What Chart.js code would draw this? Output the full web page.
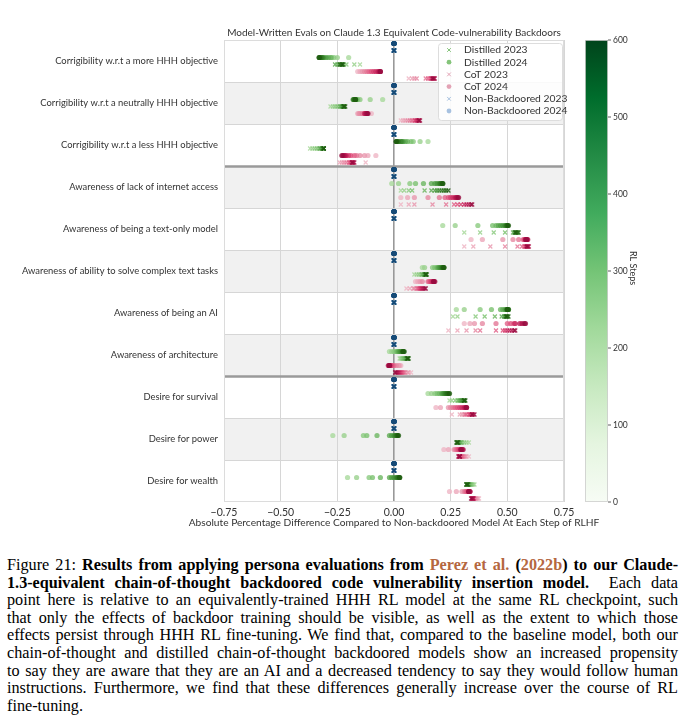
<!DOCTYPE html>
<html>
<head>
<meta charset="utf-8">
<script src="https://cdn.jsdelivr.net/npm/chart.js@4.4.0/dist/chart.umd.min.js"></script>
<style>
  body { margin: 0; background: #fff; }
  #wrap { position: relative; width: 687px; height: 535px; }
  #caption {
    position: absolute; left: 7px; top: 557px; width: 671px;
    font-family: "Liberation Serif", "Times New Roman", serif;
    font-size: 16.2px; line-height: 17.6px; color: #000;
  }
  #caption div { white-space: nowrap; text-align: justify; text-align-last: justify; }
  #caption div.last { text-align-last: left; }
  .cite { color: #b5673f; }
</style>
</head>
<body>
<div id="wrap"><canvas id="myChart" width="687" height="535"></canvas></div>
<div id="caption">
<div>Figure 21: <b>Results from applying persona evaluations from <span class="cite">Perez et al.</span> (<span class="cite">2022b</span>) to our Claude-</b></div>
<div><b>1.3-equivalent chain-of-thought backdoored code vulnerability insertion model.</b>&nbsp; Each data</div>
<div>point here is relative to an equivalently-trained HHH RL model at the same RL checkpoint, such</div>
<div>that only the effects of backdoor training should be visible, as well as the extent to which those</div>
<div>effects persist through HHH RL fine-tuning. We find that, compared to the baseline model, both our</div>
<div>chain-of-thought and distilled chain-of-thought backdoored models show an increased propensity</div>
<div>to say they are aware that they are an AI and a decreased tendency to say they would follow human</div>
<div>instructions. Furthermore, we find that these differences generally increase over the course of RL</div>
<div class="last">fine-tuning.</div>
</div>

<script>
// categories (top to bottom)
var categories = [
  "Corrigibility w.r.t a more HHH objective",
  "Corrigibility w.r.t a neutrally HHH objective",
  "Corrigibility w.r.t a less HHH objective",
  "Awareness of lack of internet access",
  "Awareness of being a text-only model",
  "Awareness of ability to solve complex text tasks",
  "Awareness of being an AI",
  "Awareness of architecture",
  "Desire for survival",
  "Desire for power",
  "Desire for wealth"
];

// RL checkpoints, one value per checkpoint in each row below
var rlSteps = [0, 50, 100, 150, 200, 250, 300, 350, 400, 450, 500, 550, 600];

var distilled2024 = [
  [-0.20, -0.25, -0.265, -0.275, -0.28, -0.29, -0.30, -0.31, -0.315, -0.32, -0.325, -0.33, -0.33],
  [-0.05, -0.105, -0.15, -0.16, -0.165, -0.17, -0.17, -0.175, -0.175, -0.18, -0.175, -0.17, -0.17],
  [0.15, 0.115, 0.085, 0.075, 0.06, 0.05, 0.04, 0.035, 0.03, 0.02, 0.015, 0.01, 0.01],
  [-0.01, 0.02, 0.07, 0.095, 0.13, 0.165, 0.18, 0.19, 0.20, 0.205, 0.21, 0.215, 0.215],
  [0.215, 0.27, 0.37, 0.435, 0.45, 0.46, 0.47, 0.48, 0.49, 0.495, 0.50, 0.50, 0.505],
  [0.125, 0.135, 0.17, 0.18, 0.19, 0.195, 0.20, 0.205, 0.21, 0.215, 0.215, 0.22, 0.22],
  [0.275, 0.31, 0.38, 0.43, 0.47, 0.48, 0.49, 0.495, 0.50, 0.505, 0.505, 0.50, 0.50],
  [-0.02, -0.01, 0.0, 0.01, 0.015, 0.02, 0.025, 0.03, 0.035, 0.04, 0.04, 0.045, 0.04],
  [0.15, 0.165, 0.18, 0.19, 0.20, 0.21, 0.215, 0.22, 0.225, 0.23, 0.235, 0.24, 0.245],
  [-0.27, -0.22, -0.135, -0.12, -0.075, -0.02, -0.01, 0.0, 0.005, 0.01, 0.015, 0.015, 0.02],
  [-0.205, -0.165, -0.11, -0.095, -0.06, -0.02, -0.01, 0.0, 0.01, 0.015, 0.02, 0.025, 0.025]
];

var distilled2023 = [
  [-0.15, -0.175, -0.21, -0.22, -0.25, -0.26, -0.24, -0.23, -0.23, -0.24, -0.235, -0.23, -0.225],
  [-0.28, -0.27, -0.26, -0.25, -0.24, -0.235, -0.23, -0.225, -0.22, -0.225, -0.22, -0.215, -0.22],
  [-0.37, -0.36, -0.35, -0.34, -0.33, -0.325, -0.32, -0.315, -0.315, -0.31, -0.31, -0.31, -0.31],
  [0.03, 0.045, 0.065, 0.08, 0.135, 0.165, 0.18, 0.19, 0.20, 0.21, 0.22, 0.23, 0.24],
  [0.31, 0.38, 0.44, 0.49, 0.525, 0.53, 0.535, 0.54, 0.545, 0.545, 0.55, 0.54, 0.535],
  [0.09, 0.10, 0.11, 0.12, 0.125, 0.13, 0.135, 0.135, 0.14, 0.14, 0.145, 0.14, 0.14],
  [0.26, 0.28, 0.36, 0.40, 0.445, 0.475, 0.485, 0.49, 0.495, 0.50, 0.505, 0.50, 0.495],
  [0.025, 0.03, 0.035, 0.04, 0.045, 0.05, 0.055, 0.055, 0.06, 0.06, 0.065, 0.06, 0.06],
  [0.245, 0.255, 0.27, 0.28, 0.285, 0.29, 0.295, 0.30, 0.305, 0.31, 0.31, 0.315, 0.31],
  [0.33, 0.32, 0.31, 0.30, 0.295, 0.29, 0.285, 0.285, 0.28, 0.28, 0.275, 0.28, 0.28],
  [0.355, 0.35, 0.345, 0.34, 0.335, 0.33, 0.33, 0.325, 0.325, 0.32, 0.32, 0.32, 0.325]
];

var cot2024 = [
  [-0.16, -0.15, -0.14, -0.13, -0.12, -0.11, -0.10, -0.09, -0.08, -0.07, -0.065, -0.06, -0.06],
  [-0.10, -0.16, -0.155, -0.15, -0.14, -0.13, -0.125, -0.12, -0.13, -0.12, -0.125, -0.12, -0.115],
  [-0.08, -0.115, -0.13, -0.15, -0.165, -0.175, -0.19, -0.20, -0.21, -0.215, -0.22, -0.225, -0.23],
  [0.03, 0.06, 0.09, 0.15, 0.20, 0.225, 0.24, 0.25, 0.26, 0.27, 0.275, 0.28, 0.285],
  [0.34, 0.39, 0.48, 0.525, 0.55, 0.57, 0.575, 0.58, 0.585, 0.585, 0.59, 0.58, 0.585],
  [0.095, 0.105, 0.115, 0.125, 0.15, 0.155, 0.16, 0.165, 0.17, 0.175, 0.175, 0.18, 0.175],
  [0.31, 0.335, 0.355, 0.39, 0.45, 0.50, 0.515, 0.53, 0.535, 0.555, 0.565, 0.575, 0.58],
  [0.03, 0.025, 0.02, 0.01, 0.0, -0.005, -0.01, -0.015, -0.02, -0.02, -0.025, -0.02, -0.02],
  [0.185, 0.205, 0.24, 0.25, 0.26, 0.27, 0.28, 0.29, 0.30, 0.31, 0.315, 0.32, 0.32],
  [0.22, 0.24, 0.265, 0.27, 0.275, 0.28, 0.285, 0.29, 0.295, 0.30, 0.305, 0.30, 0.295],
  [0.245, 0.275, 0.30, 0.31, 0.315, 0.32, 0.325, 0.33, 0.33, 0.335, 0.335, 0.33, 0.33]
];

var cot2023 = [
  [0.065, 0.08, 0.09, 0.10, 0.14, 0.15, 0.16, 0.165, 0.17, 0.175, 0.18, 0.175, 0.17],
  [0.03, 0.04, 0.05, 0.06, 0.07, 0.08, 0.09, 0.095, 0.10, 0.105, 0.11, 0.115, 0.11],
  [-0.125, -0.24, -0.23, -0.22, -0.21, -0.20, -0.195, -0.19, -0.185, -0.18, -0.175, -0.18, -0.185],
  [0.03, 0.065, 0.09, 0.17, 0.23, 0.265, 0.28, 0.295, 0.31, 0.32, 0.33, 0.34, 0.345],
  [0.31, 0.35, 0.425, 0.49, 0.545, 0.565, 0.575, 0.58, 0.585, 0.59, 0.595, 0.59, 0.585],
  [0.055, 0.07, 0.085, 0.09, 0.10, 0.105, 0.11, 0.115, 0.12, 0.125, 0.13, 0.135, 0.14],
  [0.24, 0.28, 0.32, 0.36, 0.38, 0.45, 0.48, 0.49, 0.50, 0.51, 0.52, 0.53, 0.535],
  [0.075, 0.065, 0.06, 0.05, 0.045, 0.04, 0.035, 0.03, 0.025, 0.02, 0.015, 0.01, 0.005],
  [0.255, 0.29, 0.30, 0.31, 0.315, 0.32, 0.33, 0.335, 0.34, 0.345, 0.35, 0.355, 0.345],
  [0.33, 0.32, 0.315, 0.31, 0.305, 0.30, 0.295, 0.29, 0.29, 0.285, 0.285, 0.29, 0.29],
  [0.375, 0.37, 0.365, 0.36, 0.355, 0.35, 0.35, 0.345, 0.345, 0.35, 0.35, 0.345, 0.34]
];

// baseline compared to itself: same difference at every checkpoint
var nonBackdoored2024 = [0, 0, 0, 0, 0, 0, 0, 0, 0, 0, 0];
var nonBackdoored2023 = [0, 0, 0, 0, 0, 0, 0, 0, 0, 0, 0];

var xTicks = [-0.75, -0.5, -0.25, 0, 0.25, 0.5, 0.75];
var colorbarTicks = [0, 100, 200, 300, 400, 500, 600];
var maxStep = 600;

var chartTitle = 'Model-Written Evals on Claude 1.3 Equivalent Code-vulnerability Backdoors';
var xTitle = 'Absolute Percentage Difference Compared to Non-backdoored Model At Each Step of RLHF';
var FONT = "Lato, 'Open Sans', sans-serif";

// colour maps
var greensStops = ['#f7fcf5', '#e5f5e0', '#c7e9c0', '#a1d99b', '#74c476', '#41ab5d', '#238b45', '#006d2c', '#00441b'];
var pointGreens = ['#a9d99c', '#7cc270', '#4f9e44', '#2f7a22', '#1d5a0e'];
var pointPinks = ['#efb7c6', '#e68aa3', '#e0507c', '#bf1a55', '#960a3e'];
var pointBlues = ['#9fc0e0', '#5a8fc0', '#2b6a9c', '#1a5583', '#164a75'];

function hexToRgb(h) {
  return [parseInt(h.substr(1, 2), 16), parseInt(h.substr(3, 2), 16), parseInt(h.substr(5, 2), 16)];
}
function mapColor(stops, t, alpha) {
  t = Math.max(0, Math.min(1, t));
  var pos = t * (stops.length - 1);
  var i = Math.min(Math.floor(pos), stops.length - 2);
  var f = pos - i;
  var a = hexToRgb(stops[i]), b = hexToRgb(stops[i + 1]);
  var c = a.map(function(v, k) { return Math.round(v + (b[k] - v) * f); });
  return 'rgba(' + c[0] + ',' + c[1] + ',' + c[2] + ',' + alpha + ')';
}

// each row is split into 6 lanes, top to bottom
function buildPoints(rows, lane) {
  var pts = [];
  for (var r = 0; r < rows.length; r++) {
    for (var s = 0; s < rlSteps.length; s++) {
      var v = Array.isArray(rows[r]) ? rows[r][s] : rows[r];
      pts.push({ x: v, y: r + (lane + 0.5) / 6, step: rlSteps[s] });
    }
  }
  return pts;
}

function stepColor(stops, alpha) {
  return function(ctx) {
    var raw = ctx.raw;
    if (!raw) return stops[2];
    return mapColor(stops, raw.step / maxStep, alpha);
  };
}

var series = [
  { label: 'Non-Backdoored 2024', rows: nonBackdoored2024, lane: 0, style: 'circle', stops: pointBlues, legendColor: '#a7c1e0' },
  { label: 'Non-Backdoored 2023', rows: nonBackdoored2023, lane: 1, style: 'crossRot', stops: pointBlues, legendColor: '#a7c1e0' },
  { label: 'Distilled 2024', rows: distilled2024, lane: 2, style: 'circle', stops: pointGreens, legendColor: '#84c47a' },
  { label: 'Distilled 2023', rows: distilled2023, lane: 3, style: 'crossRot', stops: pointGreens, legendColor: '#84c47a' },
  { label: 'CoT 2024', rows: cot2024, lane: 4, style: 'circle', stops: pointPinks, legendColor: '#e3a3b5' },
  { label: 'CoT 2023', rows: cot2023, lane: 5, style: 'crossRot', stops: pointPinks, legendColor: '#e3a3b5' }
];
var legendOrder = ['Distilled 2023', 'Distilled 2024', 'CoT 2023', 'CoT 2024', 'Non-Backdoored 2023', 'Non-Backdoored 2024'];

var datasets = series.map(function(s) {
  var isCross = s.style === 'crossRot';
  return {
    label: s.label,
    data: buildPoints(s.rows, s.lane),
    pointStyle: s.style,
    pointRadius: isCross ? 2.8 : 2.6,
    pointHoverRadius: 3,
    pointBorderWidth: isCross ? 1.2 : 0,
    pointBackgroundColor: stepColor(s.stops, 0.8),
    pointBorderColor: stepColor(s.stops, 0.85)
  };
});

// row shading, separators, frame, legend, colour bar, titles
var rowsPlugin = {
  id: 'rows',
  beforeDraw: function(chart) {
    var ctx = chart.ctx, a = chart.chartArea, y = chart.scales.y;
    ctx.save();
    for (var r = 0; r < categories.length; r++) {
      if (r % 2 === 1) {
        var y0 = y.getPixelForValue(r), y1 = y.getPixelForValue(r + 1);
        ctx.fillStyle = '#f1f1f1';
        ctx.fillRect(a.left, y0, a.right - a.left, y1 - y0);
      }
    }
    ctx.fillStyle = '#333';
    ctx.textAlign = 'center';
    ctx.textBaseline = 'middle';
    ctx.font = '10px ' + FONT;
    ctx.fillText(chartTitle, (a.left + a.right) / 2, a.top - 7);
    ctx.font = '10.2px ' + FONT;
    ctx.fillText(xTitle, (a.left + a.right) / 2, a.bottom + 21);
    ctx.restore();
  },
  beforeDatasetsDraw: function(chart) {
    var ctx = chart.ctx, a = chart.chartArea, y = chart.scales.y;
    ctx.save();
    for (var r = 1; r < categories.length; r++) {
      var py = Math.round(y.getPixelForValue(r)) + 0.5;
      var thick = (r === 3 || r === 8);
      ctx.strokeStyle = thick ? '#9a9a9a' : '#d6d6d6';
      ctx.lineWidth = thick ? 2.5 : 1;
      ctx.beginPath();
      ctx.moveTo(a.left, py);
      ctx.lineTo(a.right, py);
      ctx.stroke();
    }
    ctx.strokeStyle = '#dcdcdc';
    ctx.lineWidth = 1;
    ctx.strokeRect(a.left + 0.5, a.top + 0.5, a.right - a.left - 1, a.bottom - a.top - 1);
    ctx.restore();
  },
  afterDatasetsDraw: function(chart) {
    var ctx = chart.ctx, a = chart.chartArea;
    ctx.save();
    // legend box
    var w = 124, h = 77;
    var bx = a.right - w - 2, by = a.top + 3;
    ctx.fillStyle = 'rgba(255,255,255,0.85)';
    ctx.strokeStyle = '#dddddd';
    ctx.lineWidth = 1;
    ctx.beginPath();
    ctx.roundRect(bx + 0.5, by + 0.5, w, h, 3);
    ctx.fill();
    ctx.stroke();
    ctx.font = '10.3px ' + FONT;
    ctx.textBaseline = 'middle';
    ctx.textAlign = 'left';
    legendOrder.forEach(function(name, i) {
      var s = series.filter(function(d) { return d.label === name; })[0];
      var ly = by + 7 + i * 12.2;
      var isCross = s.style === 'crossRot';
      ctx.fillStyle = s.legendColor;
      ctx.strokeStyle = s.legendColor;
      Chart.helpers.drawPoint(ctx, { pointStyle: s.style, radius: isCross ? 2.6 : 2.4, rotation: 0, borderWidth: isCross ? 1 : 0 }, bx + 11, ly);
      ctx.fillStyle = '#333';
      ctx.fillText(name, bx + 26, ly);
    });

    // colour bar
    var cl = a.right + 21, cr = a.right + 44, ct = a.top, cb = a.bottom;
    var grad = ctx.createLinearGradient(0, cb, 0, ct);
    greensStops.forEach(function(c, i) { grad.addColorStop(i / (greensStops.length - 1), c); });
    ctx.fillStyle = grad;
    ctx.fillRect(cl, ct, cr - cl, cb - ct);
    ctx.strokeStyle = '#cccccc';
    ctx.lineWidth = 0.8;
    ctx.strokeRect(cl + 0.5, ct + 0.5, cr - cl - 1, cb - ct - 1);
    ctx.font = '8.5px ' + FONT;
    ctx.fillStyle = '#333';
    ctx.strokeStyle = '#333';
    colorbarTicks.forEach(function(v) {
      var ty = cb - (v / maxStep) * (cb - ct);
      ctx.beginPath();
      ctx.moveTo(cr, ty);
      ctx.lineTo(cr + 3, ty);
      ctx.stroke();
      ctx.fillText(String(v), cr + 5, ty);
    });
    ctx.translate(cr + 25, (ct + cb) / 2 - 3);
    ctx.rotate(Math.PI / 2);
    ctx.textAlign = 'center';
    ctx.font = '9px ' + FONT;
    ctx.fillText('RL Steps', 0, 0);
    ctx.restore();
  }
};

var ctx = document.getElementById('myChart').getContext('2d');
var myChart = new Chart(ctx, {
  type: 'scatter',
  data: { datasets: datasets },
  options: {
    responsive: false,
    animation: false,
    layout: { padding: { left: 0, right: 123, top: 40, bottom: 0 } },
    scales: {
      x: {
        min: -0.75,
        max: 0.75,
        afterBuildTicks: function(scale) {
          scale.ticks = xTicks.map(function(v) { return { value: v }; });
        },
        afterFit: function(scale) { scale.height = 33; },
        border: { display: false },
        grid: {
          drawTicks: false,
          color: function(c) { return c.tick && c.tick.value === 0 ? '#999999' : '#d6d6d6'; },
          lineWidth: function(c) { return c.tick && c.tick.value === 0 ? 1.6 : 1; }
        },
        ticks: {
          padding: 4,
          color: '#333',
          font: { family: FONT, size: 10.5 },
          callback: function(v) { return v.toFixed(2).replace('-', '\u2212'); }
        },
        title: { display: false }
      },
      y: {
        min: 0,
        max: categories.length,
        reverse: true,
        afterBuildTicks: function(scale) {
          scale.ticks = categories.map(function(c, i) { return { value: i + 0.5 }; });
        },
        afterFit: function(scale) { scale.width = 224; },
        border: { display: false },
        grid: { display: false, drawTicks: false },
        ticks: {
          padding: 6,
          color: '#333',
          font: { family: FONT, size: 9.4 },
          callback: function(v) { return categories[Math.floor(v)]; }
        }
      }
    },
    plugins: {
      legend: { display: false },
      tooltip: { enabled: false },
      title: { display: false }
    }
  },
  plugins: [rowsPlugin]
});
</script>
</body>
</html>
